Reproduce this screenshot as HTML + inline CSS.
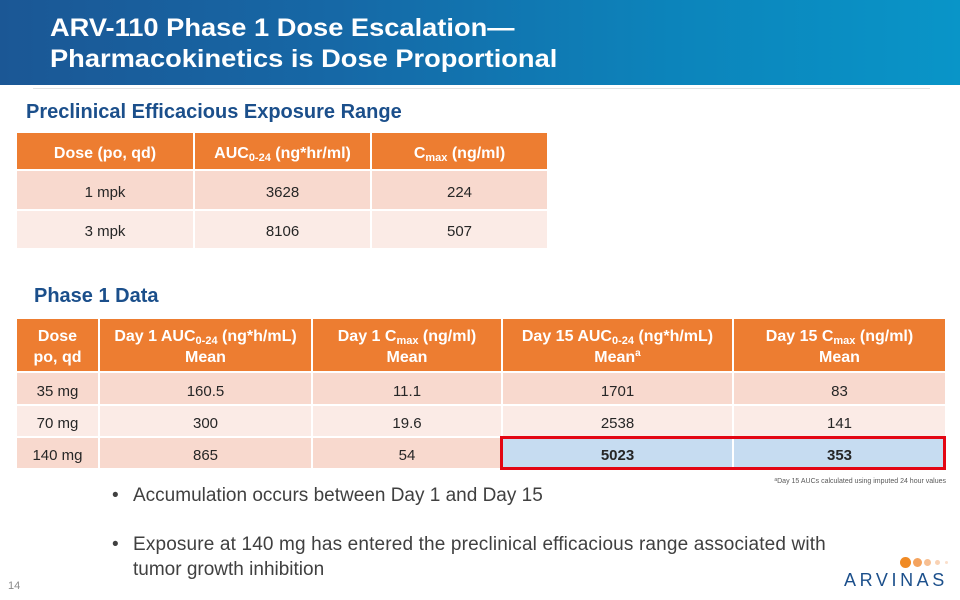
<!DOCTYPE html>
<html>
<head>
<meta charset="utf-8">
<style>
  html, body { margin:0; padding:0; }
  body { width:960px; height:600px; position:relative; overflow:hidden; background:#ffffff;
         font-family:"Liberation Sans", Arial, sans-serif; }
  .abs { position:absolute; }
  .band { left:0; top:0; width:960px; height:85px;
          background:linear-gradient(90deg,#1b5795 0%,#1668a6 35%,#0c84bb 70%,#0995c8 100%); }
  .hline { left:33px; top:88px; width:897px; height:1px; background:#e2e2e2; }
  .title { color:#fff; font-weight:bold; font-size:25px; line-height:25px; white-space:nowrap; left:50px; }
  .title span { display:inline-block; transform-origin:0 0; transform:scaleX(1.09); }
  .h2 { color:#1b4f8b; font-weight:bold; font-size:20px; line-height:20px; white-space:nowrap; }
  .cell { position:absolute; display:flex; align-items:center; justify-content:center; text-align:center;
          box-sizing:border-box; color:#262626; font-size:15px; line-height:15px; white-space:nowrap; }
  .cell > div { display:block; }
  .hd { background:#ed7d31; color:#fff; font-weight:bold; font-size:16px; line-height:21px; }
  .r1 { background:#f8d9ce; }
  .r2 { background:#fbebe6; }
  .hl { background:#c6dcf1; font-weight:bold; }
  .sub { font-size:11px; vertical-align:-3px; line-height:0; }
  .sup { font-size:10px; vertical-align:6px; line-height:0; }
  .bul { color:#404040; font-size:19px; line-height:19px; white-space:nowrap; }
  .dot { position:absolute; border-radius:50%; }
</style>
</head>
<body>
  <div class="abs band"></div>
  <div class="abs hline"></div>
  <div class="abs title" style="top:16px;"><span>ARV-110 Phase 1 Dose Escalation—</span></div>
  <div class="abs title" style="top:47px;"><span>Pharmacokinetics is Dose Proportional</span></div>

  <div class="abs h2" style="left:26px; top:102px;">Preclinical Efficacious Exposure Range</div>

  <!-- Table 1 -->
  <div class="cell hd" style="left:17px; top:133px; width:176px; height:36px; padding-top:4px;"><div>Dose (po, qd)</div></div>
  <div class="cell hd" style="left:195px; top:133px; width:175px; height:36px; padding-top:4px;"><div>AUC<span class="sub">0-24</span> (ng*hr/ml)</div></div>
  <div class="cell hd" style="left:372px; top:133px; width:175px; height:36px; padding-top:4px;"><div>C<span class="sub">max</span> (ng/ml)</div></div>

  <div class="cell r1" style="left:17px; top:171px; width:176px; height:38px; padding-top:4px;"><div>1 mpk</div></div>
  <div class="cell r1" style="left:195px; top:171px; width:175px; height:38px; padding-top:4px;"><div>3628</div></div>
  <div class="cell r1" style="left:372px; top:171px; width:175px; height:38px; padding-top:4px;"><div>224</div></div>

  <div class="cell r2" style="left:17px; top:211px; width:176px; height:37px; padding-top:4px;"><div>3 mpk</div></div>
  <div class="cell r2" style="left:195px; top:211px; width:175px; height:37px; padding-top:4px;"><div>8106</div></div>
  <div class="cell r2" style="left:372px; top:211px; width:175px; height:37px; padding-top:4px;"><div>507</div></div>

  <div class="abs h2" style="left:34px; top:286px;">Phase 1 Data</div>

  <!-- Table 2 -->
  <div class="cell hd" style="left:17px; top:319px; width:81px; height:52px; padding-top:4px;"><div>Dose<br>po, qd</div></div>
  <div class="cell hd" style="left:100px; top:319px; width:211px; height:52px; padding-top:4px;"><div>Day 1 AUC<span class="sub">0-24</span> (ng*h/mL)<br>Mean</div></div>
  <div class="cell hd" style="left:313px; top:319px; width:188px; height:52px; padding-top:4px;"><div>Day 1 C<span class="sub">max</span> (ng/ml)<br>Mean</div></div>
  <div class="cell hd" style="left:503px; top:319px; width:229px; height:52px; padding-top:4px;"><div>Day 15 AUC<span class="sub">0-24</span> (ng*h/mL)<br>Mean<span class="sup">a</span></div></div>
  <div class="cell hd" style="left:734px; top:319px; width:211px; height:52px; padding-top:4px;"><div>Day 15 C<span class="sub">max</span> (ng/ml)<br>Mean</div></div>

  <div class="cell r1" style="left:17px; top:373px; width:81px; height:31px; padding-top:5px;"><div>35 mg</div></div>
  <div class="cell r1" style="left:100px; top:373px; width:211px; height:31px; padding-top:5px;"><div>160.5</div></div>
  <div class="cell r1" style="left:313px; top:373px; width:188px; height:31px; padding-top:5px;"><div>11.1</div></div>
  <div class="cell r1" style="left:503px; top:373px; width:229px; height:31px; padding-top:5px;"><div>1701</div></div>
  <div class="cell r1" style="left:734px; top:373px; width:211px; height:31px; padding-top:5px;"><div>83</div></div>

  <div class="cell r2" style="left:17px; top:406px; width:81px; height:30px; padding-top:5px;"><div>70 mg</div></div>
  <div class="cell r2" style="left:100px; top:406px; width:211px; height:30px; padding-top:5px;"><div>300</div></div>
  <div class="cell r2" style="left:313px; top:406px; width:188px; height:30px; padding-top:5px;"><div>19.6</div></div>
  <div class="cell r2" style="left:503px; top:406px; width:229px; height:30px; padding-top:5px;"><div>2538</div></div>
  <div class="cell r2" style="left:734px; top:406px; width:211px; height:30px; padding-top:5px;"><div>141</div></div>

  <div class="cell r1" style="left:17px; top:438px; width:81px; height:30px; padding-top:5px;"><div>140 mg</div></div>
  <div class="cell r1" style="left:100px; top:438px; width:211px; height:30px; padding-top:5px;"><div>865</div></div>
  <div class="cell r1" style="left:313px; top:438px; width:188px; height:30px; padding-top:5px;"><div>54</div></div>
  <div class="cell hl" style="left:503px; top:438px; width:229px; height:30px; padding-top:5px;"><div>5023</div></div>
  <div class="cell hl" style="left:734px; top:438px; width:211px; height:30px; padding-top:5px;"><div>353</div></div>

  <!-- red highlight box -->
  <div class="abs" style="left:500px; top:436px; width:446px; height:34px; box-sizing:border-box; border:3px solid #e30613;"></div>

  <!-- footnote -->
  <div class="abs" style="right:14px; top:477px; font-size:7px; line-height:7px; color:#595959; white-space:nowrap;"><span style="font-size:5px; vertical-align:2px;">a</span>Day 15 AUCs calculated using imputed 24 hour values</div>

  <!-- bullets -->
  <div class="abs bul" style="left:112px; top:486px;">•</div>
  <div class="abs bul" style="left:133px; top:486px;">Accumulation occurs between Day 1 and Day 15</div>
  <div class="abs bul" style="left:112px; top:535px;">•</div>
  <div class="abs bul" style="left:133px; top:535px; letter-spacing:0.15px;">Exposure at 140 mg has entered the preclinical efficacious range associated with</div>
  <div class="abs bul" style="left:133px; top:560px;">tumor growth inhibition</div>

  <!-- page number -->
  <div class="abs" style="left:8px; top:581px; font-size:11px; line-height:11px; color:#8a8a8a;">14</div>

  <!-- logo -->
  <div class="dot" style="left:900px; top:557px; width:11px; height:11px; background:#f08a24;"></div>
  <div class="dot" style="left:913px; top:558px; width:9px; height:9px; background:#f4a35e;"></div>
  <div class="dot" style="left:924px; top:559px; width:7px; height:7px; background:#f7bf92;"></div>
  <div class="dot" style="left:935px; top:560px; width:5px; height:5px; background:#f9d2b4;"></div>
  <div class="dot" style="left:945px; top:561px; width:3px; height:3px; background:#fbdfcb;"></div>
  <div class="abs" style="left:844px; top:571px; font-size:18px; line-height:18px; letter-spacing:3.6px; color:#1b4f8b; white-space:nowrap;">ARVINAS</div>
</body>
</html>
